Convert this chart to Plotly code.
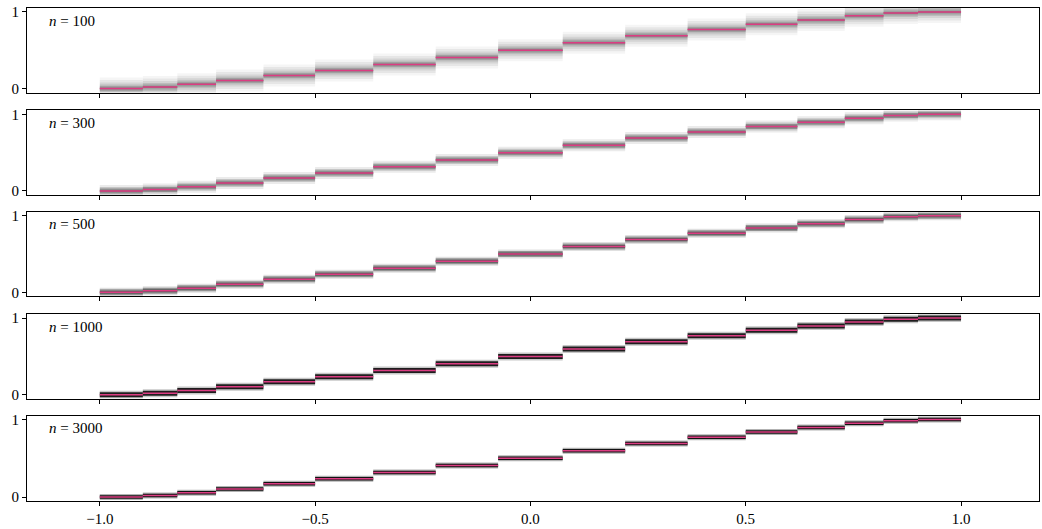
import plotly.graph_objects as go

# ---- data ----
panel_labels = ["100", "300", "500", "1000", "3000"]
breakpoints = [-1.0, -0.9, -0.82, -0.73, -0.62, -0.5, -0.365, -0.22, -0.075,
               0.075, 0.22, 0.365, 0.5, 0.62, 0.73, 0.82, 0.9, 1.0]
levels = [0.0, 0.02, 0.055, 0.105, 0.17, 0.235, 0.315, 0.405, 0.5,
          0.597, 0.69, 0.77, 0.84, 0.895, 0.95, 0.985, 1.0]
x_ticks = [-1.0, -0.5, 0.0, 0.5, 1.0]
x_tick_text = ["−1.0", "−0.5", "0.0", "0.5", "1.0"]
y_ticks = [0, 1]
y_tick_text = ["0", "1"]

# ---- style ----
# (line width px, opacity) of grey spread layers per panel
shade_layers = [
    [(22, 0.04), (17, 0.06), (12, 0.08), (8, 0.11), (5, 0.15), (2, 0.2)],
    [(12, 0.08), (8, 0.16), (5, 0.28), (2, 0.2)],
    [(9, 0.12), (6, 0.35), (3, 0.4)],
    [(8, 0.22), (5, 0.85)],
    [(6, 0.3), (3.5, 0.9)],
]
pink = "#dc3c82"
domains = [(0.8286, 1.0), (0.6210, 0.7923), (0.4153, 0.5867),
           (0.2077, 0.3790), (0.0, 0.1734)]
font_family = "Liberation Serif, DejaVu Serif, serif"

fig = go.Figure()

# horizontal segments of the staircase
seg_x, seg_y = [], []
for i, lv in enumerate(levels):
    seg_x += [breakpoints[i], breakpoints[i + 1], None]
    seg_y += [lv, lv, None]

for p in range(len(panel_labels)):
    ax = "" if p == 0 else str(p + 1)
    for w, a in shade_layers[p]:
        fig.add_trace(go.Scatter(
            x=seg_x, y=seg_y, mode="lines",
            line=dict(color=f"rgba(0,0,0,{a})", width=w),
            xaxis="x" + ax, yaxis="y" + ax, showlegend=False, hoverinfo="skip"))
    fig.add_trace(go.Scatter(
        x=seg_x, y=seg_y, mode="lines", line=dict(color=pink, width=1.5),
        xaxis="x" + ax, yaxis="y" + ax, showlegend=False))
    xa = dict(domain=[0, 1], range=[-1.169, 1.181], tickvals=x_ticks,
              ticktext=x_tick_text, showticklabels=(p == len(panel_labels) - 1),
              ticks="outside", ticklen=4, tickwidth=1, tickcolor="black",
              showline=True, linecolor="black", linewidth=1, mirror=True,
              showgrid=False, zeroline=False, anchor="y" + ax,
              tickfont=dict(family=font_family, size=15, color="black"))
    ya = dict(domain=list(domains[p]), range=[-0.051, 1.051], tickvals=y_ticks,
              ticktext=y_tick_text, ticks="outside", ticklen=4, tickwidth=1,
              tickcolor="black", showline=True, linecolor="black", linewidth=1,
              mirror=True, showgrid=False, zeroline=False, anchor="x" + ax,
              tickfont=dict(family=font_family, size=15, color="black"))
    if p > 0:
        xa["matches"] = "x"
    fig.update_layout(**{"xaxis" + ax: xa, "yaxis" + ax: ya})
    fig.add_annotation(
        text=f"<i>n</i> = {panel_labels[p]}", xref=f"x{ax} domain",
        yref=f"y{ax} domain", x=0.02, y=0.85, xanchor="left", yanchor="middle",
        showarrow=False, font=dict(family=font_family, size=15, color="black"))

fig.update_layout(width=1042, height=529, margin=dict(l=27, r=2, t=8, b=25),
                  plot_bgcolor="white", paper_bgcolor="white")
fig.write_html("out.html")
